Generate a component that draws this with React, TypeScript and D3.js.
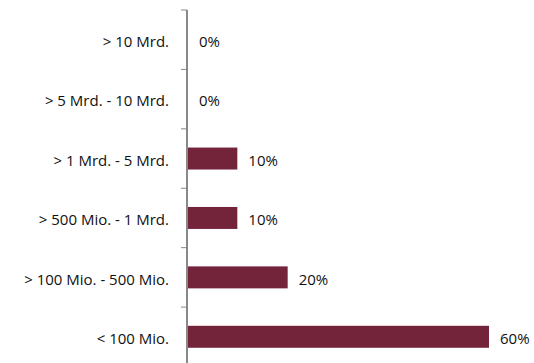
import React from "react";
import * as d3 from "d3";

const categories = ["> 10 Mrd.", "> 5 Mrd. - 10 Mrd.", "> 1 Mrd. - 5 Mrd.", "> 500 Mio. - 1 Mrd.", "> 100 Mio. - 500 Mio.", "< 100 Mio."];
const values = [0, 0, 10, 10, 20, 60];

const W = 534;
const H = 363;

export default function App() {
  const x0 = 187;
  const x = d3.scaleLinear().domain([0, 60]).range([x0, 489]);
  const y = d3.scaleBand().domain(categories).range([10, 366.5]).paddingInner(0.63).paddingOuter(0.315);
  const step = y.step();
  const ticks = d3.range(categories.length + 1).map((i) => 10 + i * step);
  const font = "'Open Sans', sans-serif";
  const fs = 15;
  return (
    <svg width={W} height={H} style={{ position: "absolute", left: 0, top: 0 }}>
      {categories.map((c, i) => {
        const v = values[i];
        const yc = (y(c) as number) + y.bandwidth() / 2;
        return (
          <g key={c}>
            {v > 0 && (
              <rect x={x(0)} y={y(c)} width={x(v) - x(0)} height={y.bandwidth()} fill="#74243a" />
            )}
            <text x={169} y={yc + 2} dy="0.35em" textAnchor="end" fontFamily={font} fontSize={fs} fill="#111">
              {c}
            </text>
            <text x={x(v) + (v > 0 ? 11 : 12)} y={yc + 2} dy="0.35em" textAnchor="start" fontFamily={font} fontSize={fs} fill="#111">
              {v}%
            </text>
          </g>
        );
      })}
      {ticks.map((t, i) => (
        <line key={i} x1={181} x2={187} y1={t} y2={t} stroke="#888" strokeWidth={1} />
      ))}
      <line x1={x0} x2={x0} y1={10} y2={366.5} stroke="#888" strokeWidth={2} />
    </svg>
  );
}
